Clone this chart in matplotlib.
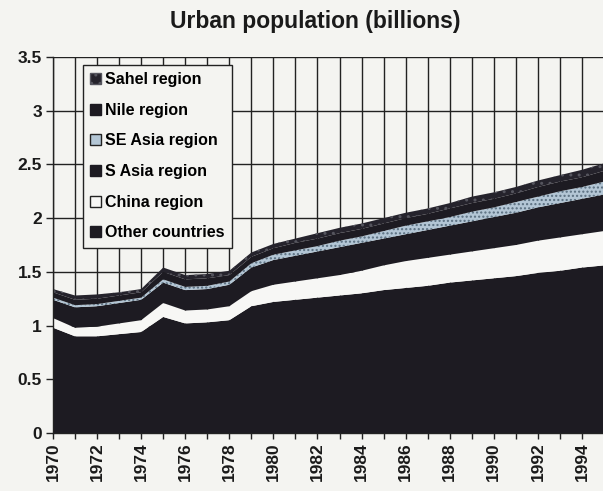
import matplotlib
matplotlib.use("Agg")
import matplotlib.pyplot as plt
import numpy as np
from matplotlib.patches import Patch

years = list(range(1970, 1996))
other = [0.98, 0.90, 0.90, 0.92, 0.94, 1.08, 1.02, 1.03, 1.05, 1.18, 1.22, 1.24, 1.26,
         1.28, 1.30, 1.33, 1.35, 1.37, 1.40, 1.42, 1.44, 1.46, 1.49, 1.51, 1.54, 1.56]
china = [0.09, 0.08, 0.09, 0.10, 0.11, 0.13, 0.12, 0.12, 0.13, 0.14, 0.16, 0.17, 0.18,
         0.19, 0.21, 0.23, 0.25, 0.26, 0.26, 0.27, 0.28, 0.29, 0.30, 0.31, 0.31, 0.32]
s_asia = [0.17, 0.19, 0.19, 0.19, 0.19, 0.19, 0.19, 0.19, 0.20, 0.22, 0.23, 0.24, 0.25,
          0.26, 0.26, 0.25, 0.25, 0.26, 0.27, 0.28, 0.29, 0.30, 0.31, 0.32, 0.33, 0.34]
se_asia = [0.02, 0.02, 0.02, 0.02, 0.02, 0.03, 0.03, 0.03, 0.03, 0.04, 0.05, 0.05, 0.05,
           0.06, 0.06, 0.07, 0.08, 0.08, 0.08, 0.09, 0.09, 0.10, 0.10, 0.11, 0.11, 0.12]
nile = [0.05, 0.05, 0.05, 0.05, 0.05, 0.07, 0.07, 0.07, 0.06, 0.06, 0.06, 0.07, 0.07,
        0.07, 0.07, 0.07, 0.07, 0.07, 0.08, 0.08, 0.08, 0.08, 0.09, 0.09, 0.09, 0.10]
sahel = [0.03, 0.04, 0.04, 0.03, 0.03, 0.04, 0.04, 0.04, 0.04, 0.04, 0.04, 0.04, 0.05,
         0.05, 0.05, 0.05, 0.05, 0.05, 0.05, 0.06, 0.06, 0.06, 0.06, 0.06, 0.07, 0.07]

series_labels = ["Other countries", "China region", "S Asia region",
                 "SE Asia region", "Nile region", "Sahel region"]
x_tick_labels = [str(y) for y in range(1970, 1995, 2)]
y_ticks = [0, 0.5, 1, 1.5, 2, 2.5, 3, 3.5]
y_tick_labels = ["0", "0.5", "1", "1.5", "2", "2.5", "3", "3.5"]

DARK = "#1d1b22"
BG = "#f4f4f1"
SE_COL = "#b3c6d5"
colors = [DARK, "#f7f7f5", DARK, SE_COL, DARK, "#25232c"]

plt.rcParams['font.family'] = ['Liberation Sans', 'DejaVu Sans']

fig = plt.figure(figsize=(6.03, 4.91), dpi=100, facecolor=BG)
ax = fig.add_axes([53/603, 58/491, 551/603, 376/491])
ax.set_facecolor(BG)

polys = ax.stackplot(years, other, china, s_asia, se_asia, nile, sahel,
                     colors=colors, labels=series_labels, linewidth=0, zorder=2)
polys[3].set_hatch('....')
polys[3].set_edgecolor('#5a6f80')
polys[5].set_hatch('..')
polys[5].set_edgecolor('#55555e')

ax.set_xlim(1970, 1995)
ax.set_ylim(0, 3.5)
ax.set_xticks(years)
labels_map = {int(t): t for t in x_tick_labels}
ax.set_xticklabels([labels_map.get(y, "") for y in years],
                   rotation=90, fontsize=12.5, fontweight='bold', color='#1a1a1a')
ax.set_yticks(y_ticks)
ax.set_yticklabels(y_tick_labels, fontsize=12.5, fontweight='bold', color='#1a1a1a')
ax.tick_params(axis='x', length=4, width=1, color='#222222', pad=3)
ax.tick_params(axis='y', length=5, width=1, color='#222222', pad=3)
ax.grid(True, color='#222222', linewidth=1.0)
ax.set_axisbelow(True)
for s in ['top', 'right']:
    ax.spines[s].set_visible(False)
for s in ['left', 'bottom']:
    ax.spines[s].set_color('#222222')
    ax.spines[s].set_linewidth(1.0)
    ax.spines[s].set_zorder(3)

fig.text(0.522, 0.957, "Urban population (billions)", ha='center', va='center',
         fontsize=16.5, fontweight='bold', color='#1a1a1a')

handles = [
    Patch(facecolor='#25232c', edgecolor='#55555e', hatch='..', label="Sahel region"),
    Patch(facecolor=DARK, edgecolor=DARK, label="Nile region"),
    Patch(facecolor=SE_COL, edgecolor='#222222', label="SE Asia region"),
    Patch(facecolor=DARK, edgecolor=DARK, label="S Asia region"),
    Patch(facecolor='#f7f7f5', edgecolor='#222222', label="China region"),
    Patch(facecolor=DARK, edgecolor=DARK, label="Other countries"),
]
leg = ax.legend(handles=handles, loc='upper left', bbox_to_anchor=(0.054, 0.979),
                borderaxespad=0, frameon=True, fancybox=False, framealpha=1,
                facecolor=BG, edgecolor='#222222',
                prop={'weight': 'bold', 'size': 11.5},
                handlelength=0.7, handleheight=0.7, handletextpad=0.25,
                labelspacing=0.98, borderpad=0.45)
leg.get_frame().set_linewidth(1.0)
leg.set_zorder(5)

fig.savefig("out.png", dpi=100, facecolor=BG)
